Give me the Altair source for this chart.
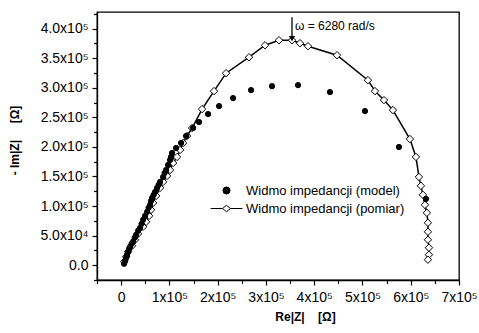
import altair as alt
import pandas as pd

# ---- data (units of 1e5 ohm) ----
model_re = [0.062, 0.083, 0.104, 0.124, 0.145, 0.166, 0.186, 0.217, 0.248, 0.280, 0.311, 0.352,
            0.393, 0.424, 0.455, 0.497, 0.538, 0.569, 0.600, 0.621, 0.642, 0.673, 0.704, 0.745,
            0.776, 0.807, 0.870, 0.901, 0.932, 0.973, 1.014, 1.035, 1.056, 1.139, 1.242, 1.346,
            1.491, 1.615, 1.801, 2.029, 2.319, 2.692, 3.126, 3.665, 4.327, 5.052, 5.756, 6.315]
model_im = [0.025, 0.076, 0.126, 0.177, 0.228, 0.278, 0.312, 0.363, 0.396, 0.464, 0.514, 0.582,
            0.632, 0.700, 0.767, 0.835, 0.902, 0.970, 1.020, 1.088, 1.138, 1.189, 1.239, 1.307,
            1.358, 1.408, 1.492, 1.560, 1.610, 1.695, 1.779, 1.830, 1.897, 1.981, 2.066, 2.184,
            2.319, 2.420, 2.555, 2.690, 2.825, 2.960, 3.027, 3.044, 2.926, 2.605, 1.998, 1.121]

meas_re = [0.062, 0.104, 0.145, 0.228, 0.290, 0.352, 0.455, 0.518, 0.580, 0.621, 0.663, 0.725,
           0.807, 0.870, 0.952, 1.014, 1.077, 1.159, 1.222, 1.284, 1.366, 1.470, 1.677, 1.925,
           2.174, 2.650, 2.981, 3.271, 3.540, 3.706, 3.872, 4.472, 5.114, 5.259, 5.445, 5.631,
           5.983, 6.108, 6.170, 6.211, 6.253, 6.294, 6.335, 6.356, 6.356, 6.356, 6.377, 6.377, 6.356]
meas_im = [0.059, 0.143, 0.228, 0.329, 0.430, 0.531, 0.649, 0.734, 0.835, 0.936, 1.054, 1.172,
           1.307, 1.408, 1.509, 1.610, 1.728, 1.830, 1.948, 2.066, 2.184, 2.319, 2.639, 2.943,
           3.246, 3.516, 3.718, 3.803, 3.803, 3.752, 3.702, 3.550, 3.128, 2.943, 2.791, 2.622,
           2.133, 1.830, 1.492, 1.341, 1.189, 1.020, 0.885, 0.717, 0.565, 0.430, 0.295, 0.177, 0.093]

series_names = ["Widmo impedancji (model)", "Widmo impedancji (pomiar)"]

x_tick_values = [-50000, 0, 50000, 100000, 150000, 200000, 250000, 300000, 350000,
                 400000, 450000, 500000, 550000, 600000, 650000, 700000]
x_tick_labels = ["", "0", "", "1x10⁵", "", "2x10⁵", "", "3x10⁵", "", "4x10⁵", "",
                 "5x10⁵", "", "6x10⁵", "", "7x10⁵"]
y_tick_values = [-25000, 0, 25000, 50000, 75000, 100000, 125000, 150000, 175000, 200000,
                 225000, 250000, 275000, 300000, 325000, 350000, 375000, 400000, 425000]
y_tick_labels = ["", "0.0", "", "5.0x10⁴", "", "1.0x10⁵", "", "1.5x10⁵", "", "2.0x10⁵", "",
                 "2.5x10⁵", "", "3.0x10⁵", "", "3.5x10⁵", "", "4.0x10⁵", ""]

annot_x = [354000]
annot_y = [404500]
annot_text = ["ω = 6280 rad/s"]
arrow_y_top = [419000]
arrow_y_tip = [383000]

SCALE = 1e5
model = pd.DataFrame({"re": [v * SCALE for v in model_re],
                      "im": [v * SCALE for v in model_im],
                      "series": series_names[0]})
meas = pd.DataFrame({"re": [v * SCALE for v in meas_re],
                     "im": [v * SCALE for v in meas_im],
                     "order": list(range(len(meas_re)))})
annot = pd.DataFrame({"x": annot_x, "y": annot_y, "text": annot_text,
                      "y1": arrow_y_top, "y2": arrow_y_tip})


def label_expr(values, labels):
    expr = "''"
    for v, l in zip(values, labels):
        if l:
            expr = f"datum.value == {v} ? '{l}' : ({expr})"
    return expr


def tick_size_cond(major_values):
    test = " || ".join(f"datum.value == {v}" for v in major_values)
    return {"condition": {"test": test, "value": 5}, "value": 3.5}


FONT = "Liberation Sans"
x_scale = alt.Scale(domain=[-50000, 700000], nice=False, zero=False)
y_scale = alt.Scale(domain=[-25000, 428000], nice=False, zero=False)

x_major = [v for v, l in zip(x_tick_values, x_tick_labels) if l]
y_major = [v for v, l in zip(y_tick_values, y_tick_labels) if l]

x_axis = alt.Axis(values=x_tick_values, tickCount=100,
                  labelExpr=label_expr(x_tick_values, x_tick_labels),
                  title="Re|Z|\u00a0\u00a0\u00a0\u00a0[Ω]", titleFontWeight="bold", titleFontSize=12,
                  titleFont=FONT, titleX=208, titleY=36, titleBaseline="middle",
                  labelFont=FONT, labelFontSize=14, labelColor="black", labelPadding=5,
                  tickSize=tick_size_cond(x_major), tickColor="black", tickWidth=1.2,
                  domainColor="black", domainWidth=1.3, grid=False, labelFlush=False,
                  labelOverlap=False)
y_axis = alt.Axis(values=y_tick_values, tickCount=100,
                  labelExpr=label_expr(y_tick_values, y_tick_labels),
                  title="-\u00a0Im|Z|\u00a0\u00a0\u00a0\u00a0\u00a0[Ω]", titleFontWeight="bold", titleFontSize=12,
                  titleFont=FONT, titleX=-83, titleY=128, titleBaseline="middle", titleAngle=-90,
                  titleAlign="center",
                  labelFont=FONT, labelFontSize=14, labelColor="black", labelPadding=4,
                  tickSize=tick_size_cond(y_major), tickColor="black", tickWidth=1.2,
                  domainColor="black", domainWidth=1.3, grid=False, labelFlush=False,
                  labelOverlap=False)

legend_path = "M-4.5,0L-1.13,0M1.13,0L4.5,0M0,-0.9L1.13,0L0,0.9L-1.13,0Z"
legend = alt.Legend(orient="none", legendX=123, legendY=172, title=None,
                    labelFont=FONT, labelFontSize=13, labelColor="black",
                    symbolSize=50, labelOffset=13, rowPadding=4, padding=0,
                    symbolStrokeWidth=1)

base_x = alt.X("re:Q", scale=x_scale, axis=x_axis)
base_y = alt.Y("im:Q", scale=y_scale, axis=y_axis)

line = alt.Chart(meas).mark_line(color="black", strokeWidth=1.5).encode(
    x=base_x, y=base_y, order="order:Q")

diamonds = alt.Chart(meas).mark_point(shape="diamond", filled=True, fill="white",
                                       stroke="black", strokeWidth=1, size=55, opacity=1).encode(
    x="re:Q", y="im:Q")

circles = alt.Chart(model).mark_point(filled=True, strokeWidth=1,
                                      size=28, opacity=1).encode(
    x="re:Q", y="im:Q",
    fill=alt.Fill("series:N", scale=alt.Scale(domain=series_names, range=["black", "white"]),
                  legend=legend),
    stroke=alt.Stroke("series:N", scale=alt.Scale(domain=series_names, range=["black", "black"]),
                      legend=legend),
    shape=alt.Shape("series:N", scale=alt.Scale(domain=series_names, range=["circle", legend_path]),
                    legend=legend),
)

arrow = alt.Chart(annot).mark_rule(color="black", strokeWidth=1.3).encode(
    x="x:Q", y="y1:Q", y2="y2:Q")
arrow_head = alt.Chart(annot).mark_point(shape="triangle-down", filled=True, color="black",
                                         size=40, opacity=1).encode(
    x="x:Q", y="y2:Q")
text = alt.Chart(annot).mark_text(align="left", baseline="middle", dx=3, fontSize=12,
                                  font=FONT, color="black").encode(
    x="x:Q", y="y:Q", text="text:N")

chart = alt.layer(line, diamonds, circles, arrow, arrow_head, text).properties(
    width=362, height=268,
    padding={"left": 97, "top": 12, "right": 20, "bottom": 53},
    autosize=alt.AutoSizeParams(type="none"),
    background="white",
).configure_view(stroke="black", strokeWidth=1.3)

chart.save("out.html", embed_options={"renderer": "svg", "actions": False})
